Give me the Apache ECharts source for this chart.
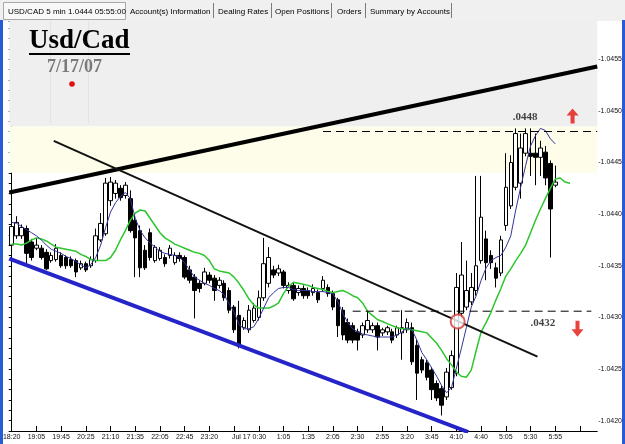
<!DOCTYPE html>
<html><head><meta charset="utf-8">
<script src="https://cdn.jsdelivr.net/npm/echarts@6/dist/echarts.min.js"></script>
<style>html,body{margin:0;padding:0;background:#fff}#c{width:625px;height:444px}</style>
</head><body><div id="c"></div>
<script>
// ---- data ----
const tickLabels = ['18:20','19:05','19:45','20:25','21:10','21:35','22:05','22:45','23:20','','Jul 17 0:30','1:05','1:35','2:05','2:30','2:55','3:20','3:45','4:10','4:40','5:05','5:30','5:55'];
const slotCount = 119; // 111 bars + empty space on the right

const opens = [1.04370,1.04379,1.04379,1.04386,1.04373,1.04367,1.04367,1.04363,1.04355,1.04356,
1.04360,1.04358,1.04356,1.04355,1.04348,1.04352,1.04350,1.04355,1.04375,1.04381,
1.04413,1.04420,1.04425,1.04418,1.04415,1.04394,1.04384,1.04365,1.04382,1.04355,
1.04357,1.04358,1.04360,1.04353,1.04360,1.04358,1.04346,1.04339,1.04333,1.04333,
1.04341,1.04338,1.04331,1.04333,1.04326,1.04310,1.04302,1.04290,1.04288,1.04297,
1.04300,1.04319,1.04333,1.04346,1.04343,1.04344,1.04326,1.04331,1.04324,1.04328,
1.04326,1.04324,1.04324,1.04328,1.04329,1.04323,1.04317,1.04307,1.04295,1.04292,
1.04286,1.04283,1.04288,1.04288,1.04292,1.04285,1.04286,1.04286,1.04283,1.04285,
1.04288,1.04290,1.04273,1.04259,1.04256,1.04249,1.04236,1.04231,1.04223,1.04232,
1.04246,1.04304,1.04310,1.04315,1.04326,1.04355,1.04376,1.04360,1.04348,1.04343,
1.04389,1.04408,1.04426,1.04430,1.04459,1.04459,1.04459,1.04455,1.04460,1.04449,1.04428];
const closes = [1.04388,1.04392,1.04387,1.04362,1.04358,1.04370,1.04358,1.04347,1.04360,1.04367,
1.04350,1.04350,1.04350,1.04344,1.04352,1.04346,1.04356,1.04379,1.04391,1.04430,
1.04431,1.04430,1.04416,1.04428,1.04384,1.04377,1.04348,1.04348,1.04358,1.04368,
1.04365,1.04352,1.04367,1.04360,1.04357,1.04339,1.04336,1.04326,1.04328,1.04344,
1.04336,1.04326,1.04336,1.04319,1.04307,1.04288,1.04273,1.04297,1.04307,1.04309,
1.04319,1.04352,1.04358,1.04341,1.04347,1.04331,1.04331,1.04318,1.04328,1.04321,
1.04321,1.04328,1.04317,1.04336,1.04323,1.04310,1.04292,1.04283,1.04278,1.04278,
1.04278,1.04292,1.04297,1.04292,1.04281,1.04288,1.04290,1.04278,1.04290,1.04290,
1.04295,1.04257,1.04246,1.04249,1.04242,1.04230,1.04222,1.04215,1.04247,1.04263,
1.04329,1.04341,1.04326,1.04329,1.04350,1.04397,1.04353,1.04353,1.04338,1.04375,
1.04426,1.04450,1.04478,1.04464,1.04478,1.04456,1.04455,1.04464,1.04435,1.04405,1.04431];
const lows = [1.04367,1.04376,1.04376,1.04352,1.04355,1.04365,1.04356,1.04346,1.04353,1.04354,
1.04348,1.04347,1.04348,1.04339,1.04346,1.04344,1.04348,1.04353,1.04373,1.04379,
1.04408,1.04415,1.04413,1.04415,1.04382,1.04339,1.04339,1.04346,1.04355,1.04353,
1.04355,1.04349,1.04357,1.04351,1.04354,1.04337,1.04333,1.04299,1.04324,1.04331,
1.04333,1.04316,1.04328,1.04316,1.04304,1.04285,1.04270,1.04288,1.04285,1.04295,
1.04297,1.04316,1.04329,1.04338,1.04340,1.04328,1.04323,1.04316,1.04321,1.04318,
1.04318,1.04321,1.04314,1.04325,1.04320,1.04307,1.04281,1.04278,1.04275,1.04275,
1.04268,1.04280,1.04285,1.04285,1.04268,1.04282,1.04283,1.04275,1.04280,1.04259,
1.04285,1.04254,1.04220,1.04246,1.04239,1.04220,1.04219,1.04205,1.04220,1.04230,
1.04243,1.04299,1.04307,1.04312,1.04321,1.04352,1.04336,1.04347,1.04329,1.04340,
1.04384,1.04405,1.04423,1.04415,1.04456,1.04437,1.04428,1.04437,1.04428,1.04358,1.04426];
const highs = [1.04394,1.04398,1.04390,1.04389,1.04376,1.04377,1.04370,1.04366,1.04363,1.04371,
1.04363,1.04360,1.04359,1.04357,1.04355,1.04354,1.04359,1.04386,1.04401,1.04435,
1.04436,1.04433,1.04428,1.04431,1.04423,1.04399,1.04389,1.04370,1.04386,1.04370,
1.04368,1.04361,1.04370,1.04363,1.04363,1.04360,1.04350,1.04342,1.04336,1.04348,
1.04344,1.04341,1.04339,1.04336,1.04329,1.04312,1.04316,1.04300,1.04312,1.04314,
1.04326,1.04377,1.04368,1.04350,1.04351,1.04346,1.04334,1.04334,1.04331,1.04331,
1.04329,1.04332,1.04327,1.04340,1.04332,1.04326,1.04319,1.04310,1.04299,1.04295,
1.04289,1.04295,1.04307,1.04295,1.04295,1.04290,1.04292,1.04289,1.04292,1.04307,
1.04299,1.04295,1.04278,1.04262,1.04259,1.04252,1.04239,1.04234,1.04251,1.04268,
1.04343,1.04373,1.04355,1.04343,1.04437,1.04437,1.04384,1.04365,1.04353,1.04379,
1.04459,1.04457,1.04483,1.04478,1.04483,1.04483,1.04478,1.04471,1.04466,1.04452,1.04447];

const maFast = [1.04392,1.04391,1.04388,1.04385,1.04382,1.04379,1.04375,1.04370,1.04366,1.04364,
1.04362,1.04359,1.04357,1.04354,1.04351,1.04348,1.04351,1.04358,1.04370,1.04387,
1.04402,1.04411,1.04417,1.04421,1.04415,1.04396,1.04384,1.04377,1.04372,1.04368,
1.04364,1.04362,1.04361,1.04360,1.04358,1.04353,1.04346,1.04339,1.04336,1.04333,
1.04331,1.04328,1.04326,1.04322,1.04313,1.04305,1.04293,1.04289,1.04289,1.04291,
1.04299,1.04309,1.04319,1.04324,1.04328,1.04329,1.04329,1.04327,1.04326,1.04326,
1.04326,1.04325,1.04325,1.04325,1.04324,1.04323,1.04315,1.04304,1.04295,1.04289,
1.04286,1.04284,1.04283,1.04282,1.04281,1.04281,1.04281,1.04281,1.04283,1.04286,
1.04290,1.04288,1.04278,1.04266,1.04259,1.04251,1.04243,1.04234,1.04227,1.04232,
1.04251,1.04270,1.04290,1.04310,1.04321,1.04336,1.04348,1.04355,1.04358,1.04360,
1.04368,1.04379,1.04404,1.04426,1.04447,1.04466,1.04476,1.04483,1.04481,1.04473,1.04468];
const maSlow = [1.04371,1.04371,1.04370,1.04372,1.04375,1.04377,1.04376,1.04374,1.04371,1.04368,
1.04367,1.04366,1.04365,1.04364,1.04361,1.04359,1.04356,1.04355,1.04355,1.04355,
1.04358,1.04365,1.04375,1.04384,1.04394,1.04401,1.04404,1.04403,1.04396,1.04389,
1.04382,1.04377,1.04374,1.04371,1.04369,1.04367,1.04365,1.04363,1.04362,1.04360,
1.04355,1.04347,1.04345,1.04344,1.04343,1.04339,1.04333,1.04326,1.04318,1.04312,
1.04309,1.04309,1.04309,1.04311,1.04314,1.04323,1.04330,1.04334,1.04333,1.04332,
1.04331,1.04329,1.04328,1.04327,1.04325,1.04324,1.04325,1.04326,1.04324,1.04321,
1.04319,1.04314,1.04306,1.04302,1.04298,1.04296,1.04294,1.04292,1.04290,1.04289,
1.04289,1.04288,1.04287,1.04286,1.04285,1.04280,1.04275,1.04268,1.04260,1.04254,
1.04247,1.04243,1.04242,1.04249,1.04268,1.04286,1.04295,1.04305,1.04317,1.04328,
1.04340,1.04347,1.04355,1.04362,1.04370,1.04382,1.04394,1.04405,1.04415,1.04425,
1.04434,1.04435,1.04431,1.04430];

const lastPrice = 1.0444;
const resistance = 1.0448, resistanceStart = 63;
const support = 1.04306, supportStart = 69;
// trendlines as [bar index, price]
const upperTrend = [[-0.5, 1.04421], [118.5, 1.04543]];
const midTrend = [[8.5, 1.04471], [106.4, 1.04262]];
const lowerTrend = [[-0.5, 1.04357], [92.4, 1.04189]];
const levelNotes = [[103.9, 1.04494, '.0448'], [107.5, 1.04294, '.0432']];
const upArrow = [[113.5, 1.04495]];
const downArrow = [[114.5, 1.04289]];
const breakoutMark = [[90.25, 1.04296]];
const yMin = 1.0419, yMax = 1.04587;

// ---- build ----
const slots = Array.from({length: slotCount}, (_, i) => String(i));
const candles = opens.map((o, i) => [o, closes[i], lows[i], highs[i]]);
const narrow = "'Liberation Sans Narrow','Liberation Sans',Arial,sans-serif";
const xEnd = slotCount - 0.5;

const chart = echarts.init(document.getElementById('c'), null, {renderer: 'canvas'});
const lineS = (data, color, width, extra) => Object.assign({
  type: 'line', xAxisIndex: 1, yAxisIndex: 0, data, symbol: 'none', silent: true,
  lineStyle: {color, width}, z: 5, animation: false
}, extra || {});

chart.setOption({
  animation: false,
  backgroundColor: '#ffffff',
  grid: {left: 3, right: 24, top: 21, bottom: 13, containLabel: false},
  xAxis: [{
    type: 'category', data: slots, boundaryGap: true,
    axisLine: {lineStyle: {color: '#000', width: 1}},
    axisTick: {show: true, inside: true, length: 5, interval: 4, alignWithLabel: true, lineStyle: {color: '#000'}},
    axisLabel: {interval: 4, fontSize: 7, fontFamily: narrow, color: '#111', margin: 3,
      formatter: (v, idx) => {
        const t = (idx % 5 === 0 && tickLabels[idx / 5]) || '';
        return t.length > 6 ? t + '          ' : t;
      }},
    splitLine: {show: false}
  }, {
    type: 'value', min: -0.5, max: xEnd, show: false
  }],
  yAxis: [{
    type: 'value', position: 'right', min: yMin, max: yMax, interval: 0.0001,
    axisLine: {show: true, lineStyle: {color: '#000', width: 1}},
    axisTick: {show: true, inside: true, length: 3, lineStyle: {color: '#000'}},
    axisLabel: {fontSize: 7, fontFamily: narrow, color: '#111', margin: 1,
      formatter: v => (Math.round(v * 100000) % 50 === 0 ? '-' + v.toFixed(4) : '')},
    splitLine: {show: false}
  }],
  series: [
    { // background bands + last price line
      type: 'line', xAxisIndex: 1, data: [], z: 1, silent: true,
      markArea: {silent: true, data: [
        [{yAxis: 1.04485, itemStyle: {color: '#efefef'}}, {yAxis: yMax}],
        [{yAxis: lastPrice, itemStyle: {color: '#fdfdea'}}, {yAxis: 1.04485}]
      ]},
      markLine: {silent: true, symbol: 'none', data: [{yAxis: lastPrice}],
        lineStyle: {color: '#2a0000', width: 1, type: 'solid'},
        label: {show: true, position: 'end', formatter: lastPrice.toFixed(4), distance: 2,
          color: '#fff', backgroundColor: '#6a0b0b', padding: [2, 1, 1, 1], fontSize: 7, fontFamily: narrow}}
    },
    {
      type: 'candlestick', xAxisIndex: 0, data: candles, barWidth: 4, silent: true, z: 3,
      itemStyle: {color: '#ffffff', color0: '#000000', borderColor: '#000000', borderColor0: '#000000', borderWidth: 1}
    },
    {type: 'line', xAxisIndex: 0, data: maSlow, symbol: 'none', silent: true, z: 4,
      lineStyle: {color: '#2cc62c', width: 1.5}},
    {type: 'line', xAxisIndex: 0, data: maFast, symbol: 'none', silent: true, z: 4,
      lineStyle: {color: '#34349c', width: 1}},
    lineS(upperTrend, '#000', 4),
    lineS(midTrend, '#111', 2),
    lineS(lowerTrend, '#2424c8', 4),
    lineS([[resistanceStart, resistance], [xEnd, resistance]], '#000', 1, {lineStyle: {color: '#000', width: 1, type: [8, 5]}}),
    lineS([[supportStart, support], [xEnd - 1.2, support]], '#000', 1, {lineStyle: {color: '#000', width: 1, type: [8, 5]}}),
    {
      type: 'scatter', xAxisIndex: 1, silent: true, z: 6, symbolSize: 1,
      itemStyle: {color: 'rgba(0,0,0,0)'},
      data: levelNotes.map(d => ({value: [d[0], d[1]], label: {formatter: d[2]}})),
      label: {show: true, position: 'inside', color: '#111', fontSize: 11, fontWeight: 'bold',
        fontFamily: "'Liberation Serif','Times New Roman',serif"}
    },
    {type: 'scatter', xAxisIndex: 1, silent: true, z: 6, data: upArrow,
      symbol: 'path://M6,0L12,7L8,7L8,15L4,15L4,7L0,7Z', symbolSize: [12, 15],
      itemStyle: {color: '#e3140e'}},
    {type: 'scatter', xAxisIndex: 1, silent: true, z: 6, data: downArrow,
      symbol: 'path://M6,0L12,7L8,7L8,15L4,15L4,7L0,7Z', symbolSize: [12, 16], symbolRotate: 180,
      itemStyle: {color: '#e3140e'}},
    {type: 'scatter', xAxisIndex: 1, silent: true, z: 6, data: breakoutMark,
      symbol: 'emptyCircle', symbolSize: 14, itemStyle: {color: '#d43a3a', borderWidth: 1.3}}
  ],
  graphic: [
    {type: 'rect', z: 100, shape: {x: 0, y: 0, width: 625, height: 21}, style: {fill: '#f0f0f0'}},
    {type: 'rect', z: 101, shape: {x: 3.5, y: 2.5, width: 122, height: 17}, style: {fill: '#f8f8f8', stroke: '#a8a8a8', lineWidth: 1}},
    ...[213, 271, 331, 365, 451].map(x => ({type: 'line', z: 101, shape: {x1: x + 0.5, y1: 3, x2: x + 0.5, y2: 18}, style: {stroke: '#7a7a7a', lineWidth: 1}})),
    ...[['USD/CAD 5 min 1.0444 05:55:00', 8], ['Account(s) Information', 130], ['Dealing Rates', 218], ['Open Positions', 275], ['Orders', 337], ['Summary by Accounts', 370]]
      .map(t => ({type: 'text', z: 102, style: {text: t[0], x: t[1], y: 11.5, fill: '#000', font: "8px 'Liberation Sans', Arial, sans-serif", verticalAlign: 'middle'}})),
    {type: 'line', z: 3, shape: {x1: 50.5, y1: 21, x2: 50.5, y2: 123}, style: {stroke: '#e3e3e3', lineWidth: 1}},
    {type: 'line', z: 3, shape: {x1: 88.5, y1: 21, x2: 88.5, y2: 123}, style: {stroke: '#e3e3e3', lineWidth: 1}},
    {type: 'text', z: 50, style: {text: 'Usd/Cad', x: 29, y: 41, fill: '#000', font: "bold 27px 'Liberation Serif', 'Times New Roman', serif", verticalAlign: 'middle'}},
    {type: 'rect', z: 50, shape: {x: 29, y: 53, width: 101, height: 2}, style: {fill: '#000'}},
    {type: 'text', z: 50, style: {text: '7/17/07', x: 47, y: 67.5, fill: '#7a7a7a', font: "bold 18px 'Liberation Serif', 'Times New Roman', serif", verticalAlign: 'middle'}},
    {type: 'circle', z: 50, shape: {cx: 72, cy: 84, r: 2.8}, style: {fill: '#e01010'}},
    {type: 'rect', z: 110, shape: {x: 0, y: 20, width: 3, height: 424}, style: {fill: '#2a5bd7'}},
    {type: 'rect', z: 110, shape: {x: 622, y: 20, width: 3, height: 424}, style: {fill: '#2a5bd7'}}
  ]
});
</script></body></html>
